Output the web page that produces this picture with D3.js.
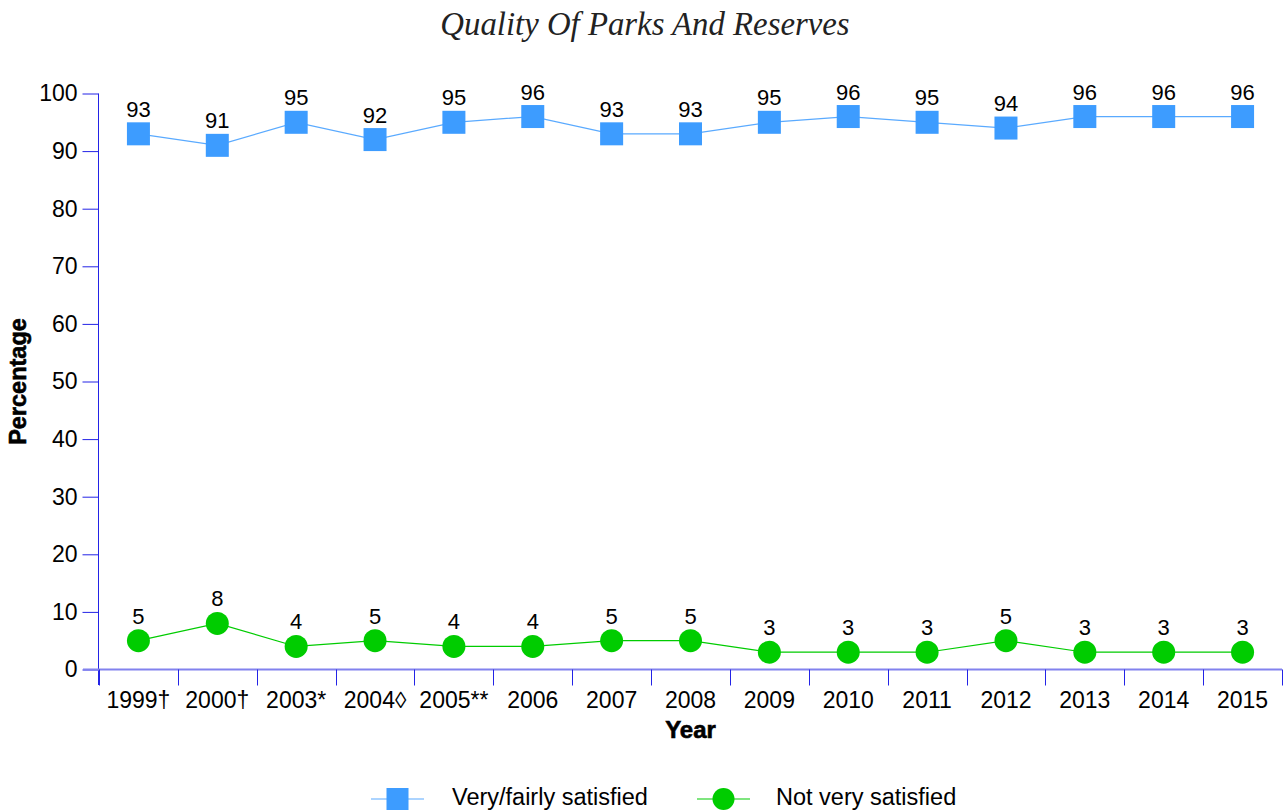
<!DOCTYPE html>
<html>
<head>
<meta charset="utf-8">
<script src="https://cdn.jsdelivr.net/npm/d3@7"></script>
<style>
  html, body { margin: 0; padding: 0; background: #fff; }
  svg { display: block; }
  text { font-family: "Liberation Sans", Arial, Helvetica, sans-serif; }
</style>
</head>
<body>
<svg id="chart" width="1288" height="812"></svg>
<script>
// Survey years (footnote markers kept in the labels)
const years = ["1999†", "2000†", "2003*", "2004◊", "2005**", "2006", "2007", "2008",
               "2009", "2010", "2011", "2012", "2013", "2014", "2015"];
// Percentage of respondents per year
const satisfied    = [93, 91, 95, 92, 95, 96, 93, 93, 95, 96, 95, 94, 96, 96, 96];
const notSatisfied = [5, 8, 4, 5, 4, 4, 5, 5, 3, 3, 3, 5, 3, 3, 3];
const yTicks = [0, 10, 20, 30, 40, 50, 60, 70, 80, 90, 100];
const seriesNames = ["Very/fairly satisfied", "Not very satisfied"];

const svg = d3.select("#chart");
const axisBlue = "#2323e6";
const axisLight = "#8282ee";
const blue = "#3d9cff";
const blueLine = "#5aaaff";
const green = "#00cc00";

const x = d3.scaleBand().domain(years).range([99, 1282]).padding(0);
const y = d3.scaleLinear().domain([0, 100]).range([669.5, 93.5]);

// Title
svg.append("text")
  .attr("x", 645).attr("y", 35)
  .attr("text-anchor", "middle")
  .style("font-family", "'Liberation Serif', 'DejaVu Serif', serif")
  .style("font-style", "italic")
  .style("font-size", "32.8px")
  .attr("fill", "#222")
  .text("Quality Of Parks And Reserves");

// Y axis
const yAxis = svg.append("g")
  .attr("transform", "translate(98.5,0)")
  .call(d3.axisLeft(y).tickValues(yTicks).tickSize(16).tickPadding(5).tickFormat(d3.format("d")));
yAxis.select(".domain").attr("stroke", axisBlue).attr("d", `M0,${y(100)}V685`);
yAxis.selectAll(".tick line").attr("stroke", axisBlue);
yAxis.selectAll(".tick text")
  .style("font-size", "23px").attr("fill", "#000")
  .style("font-family", "'Liberation Sans', Arial, sans-serif");

// X axis: ticks sit on band boundaries, labels centred in each band
const xAxisG = svg.append("g").attr("transform", "translate(0,669.5)");
xAxisG.append("line")
  .attr("x1", 83).attr("x2", 1282).attr("y1", 0).attr("y2", 0)
  .attr("stroke", axisLight).attr("stroke-width", 2);
const boundaries = years.map(d => x(d)).concat([x.range()[1]]);
xAxisG.selectAll("line.tick")
  .data(boundaries)
  .join("line")
  .attr("class", "tick")
  .attr("x1", d => Math.round(d) + 0.5).attr("x2", d => Math.round(d) + 0.5)
  .attr("y1", 0).attr("y2", 16)
  .attr("stroke", axisBlue);
xAxisG.selectAll("text.lbl")
  .data(years)
  .join("text")
  .attr("class", "lbl")
  .attr("x", d => x(d) + x.bandwidth() / 2)
  .attr("y", 38.5)
  .attr("text-anchor", "middle")
  .style("font-size", "23px")
  .attr("fill", "#000")
  .text(d => d);

// Axis titles
svg.append("text")
  .attr("x", x.range()[0] / 2 + x.range()[1] / 2).attr("y", 738)
  .attr("text-anchor", "middle")
  .style("font-size", "24px").style("font-weight", "bold")
  .attr("stroke", "#000").attr("stroke-width", 0.6)
  .text("Year");
svg.append("text")
  .attr("transform", `translate(26,${(y(0) + y(100)) / 2}) rotate(-90)`)
  .attr("text-anchor", "middle")
  .style("font-size", "23.5px").style("font-weight", "bold")
  .attr("stroke", "#000").attr("stroke-width", 0.6)
  .text("Percentage");

const cx = d => x(d) + x.bandwidth() / 2;
const line = d3.line().x(d => cx(d.year)).y(d => y(d.value));

const blueData = years.map((yr, i) => ({ year: yr, value: satisfied[i] }));
const greenData = years.map((yr, i) => ({ year: yr, value: notSatisfied[i] }));

// Very/fairly satisfied: line + square markers
svg.append("path").datum(blueData)
  .attr("fill", "none").attr("stroke", blueLine).attr("stroke-width", 1.2)
  .attr("d", line);
const sq = 23;
svg.selectAll("rect.sq").data(blueData).join("rect")
  .attr("class", "sq")
  .attr("x", d => cx(d.year) - sq / 2).attr("y", d => y(d.value) - sq / 2)
  .attr("width", sq).attr("height", sq)
  .attr("fill", blue);

// Not very satisfied: line + circle markers
svg.append("path").datum(greenData)
  .attr("fill", "none").attr("stroke", green).attr("stroke-width", 1.2)
  .attr("d", line);
svg.selectAll("circle.pt").data(greenData).join("circle")
  .attr("class", "pt")
  .attr("cx", d => cx(d.year)).attr("cy", d => y(d.value))
  .attr("r", 11.5)
  .attr("fill", green);

// Value labels above each marker
const labelData = blueData.concat(greenData);
svg.selectAll("text.val").data(labelData).join("text")
  .attr("class", "val")
  .attr("x", d => cx(d.year)).attr("y", d => y(d.value) - 17)
  .attr("text-anchor", "middle")
  .style("font-size", "22px")
  .attr("fill", "#000")
  .text(d => d.value);

// Legend
const legend = svg.append("g").attr("transform", "translate(0,799)");
const legendItems = [
  { name: seriesNames[0], x0: 371, tx: 452, color: blueLine, fill: blue, shape: "square" },
  { name: seriesNames[1], x0: 697, tx: 776, color: green, fill: green, shape: "circle" }
];
legendItems.forEach(it => {
  const g = legend.append("g");
  g.append("line").attr("x1", it.x0).attr("x2", it.x0 + 53).attr("y1", 0).attr("y2", 0)
    .attr("stroke", it.color).attr("stroke-width", 1.2);
  if (it.shape === "square") {
    g.append("rect").attr("x", it.x0 + 26.5 - 11).attr("y", -11).attr("width", 22).attr("height", 22)
      .attr("fill", it.fill);
  } else {
    g.append("circle").attr("cx", it.x0 + 26.5).attr("cy", 0).attr("r", 11).attr("fill", it.fill);
  }
  g.append("text").attr("x", it.tx).attr("y", 6)
    .style("font-size", "23.5px").attr("fill", "#000")
    .text(it.name);
});
</script>
</body>
</html>
